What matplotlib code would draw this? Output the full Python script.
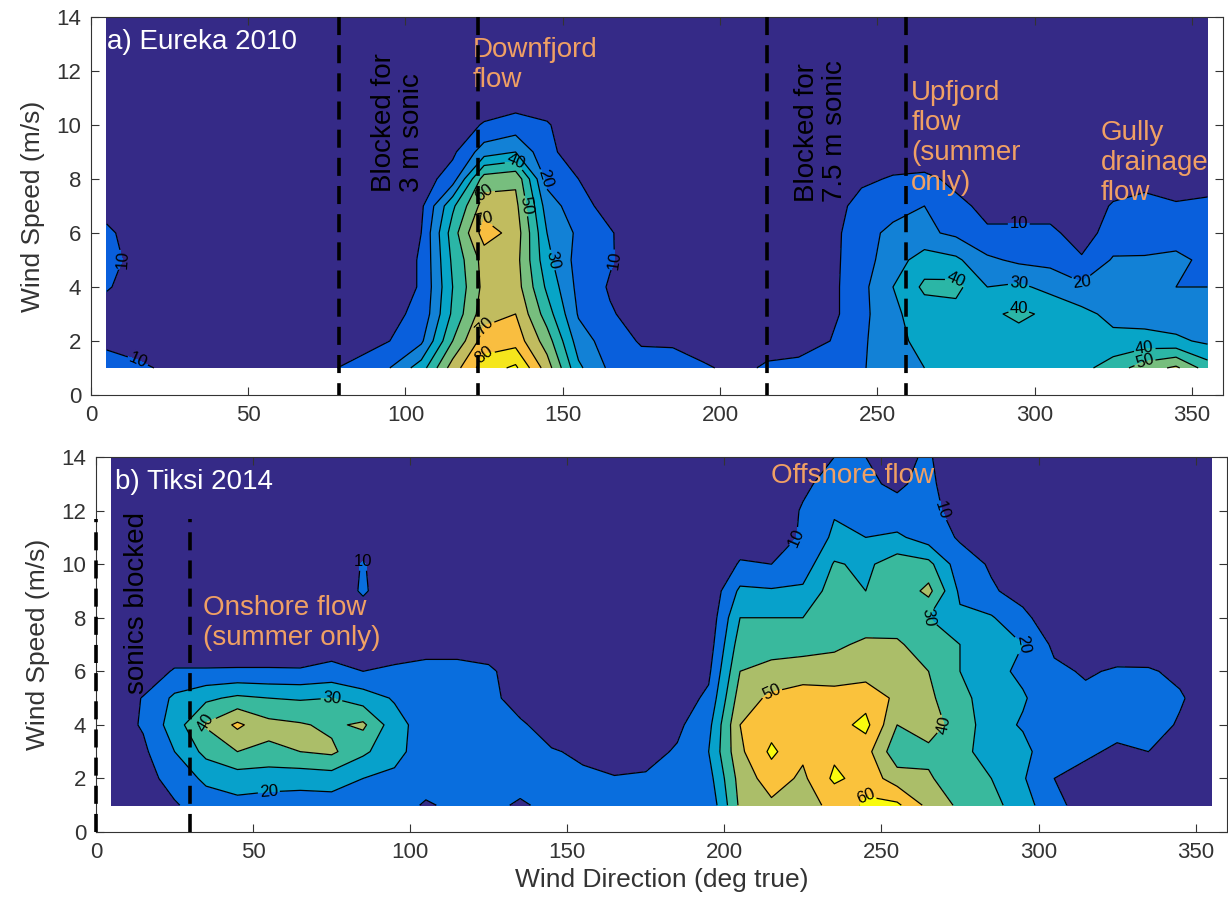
import numpy as np
from matplotlib import pyplot as plt
from matplotlib.colors import LinearSegmentedColormap

plt.rcParams["font.family"] = ["Liberation Sans", "DejaVu Sans"]

# wind direction bin centres (deg true) and wind speed bins (m/s)
directions = np.arange(5, 360, 10)
speeds = np.arange(1, 15)
count_levels = np.arange(0, 110, 10)

# counts per direction bin, each list runs over speed 1..14 m/s
eureka_counts = [
    [14, 8, 5, 11, 14, 12, 6, 2, 1, 0, 0, 0, 0, 0],
    [12, 5, 4, 5, 6, 5, 3, 1, 0, 0, 0, 0, 0, 0],
    [8, 4, 3, 3, 3, 2, 2, 1, 0, 0, 0, 0, 0, 0],
    [7, 4, 3, 3, 2, 2, 1, 1, 0, 0, 0, 0, 0, 0],
    [6, 3, 3, 2, 2, 2, 1, 0, 0, 0, 0, 0, 0, 0],
    [6, 3, 3, 3, 2, 2, 1, 0, 0, 0, 0, 0, 0, 0],
    [7, 4, 3, 3, 3, 2, 1, 0, 0, 0, 0, 0, 0, 0],
    [9, 5, 4, 3, 3, 2, 2, 1, 0, 0, 0, 0, 0, 0],
    [12, 7, 5, 4, 3, 3, 2, 1, 0, 0, 0, 0, 0, 0],
    [20, 10, 8, 7, 7, 6, 5, 3, 1, 0, 0, 0, 0, 0],
    [35, 18, 12, 10.5, 10.5, 10, 8, 5, 2, 1, 0, 0, 0, 0],
    [65, 50, 42, 40, 42, 45, 38, 15, 8, 4, 1, 0, 0, 0],
    [85, 75, 66, 63, 64, 75, 65, 55, 25, 11, 3, 0, 0, 0],
    [92, 76, 70, 65, 64, 66, 63, 58, 30, 14, 5, 1, 0, 0],
    [65, 55, 45, 38, 33, 30, 25, 17, 12, 11, 4, 1, 0, 0],
    [32, 25, 19, 17, 16, 18, 14, 10, 6, 3, 1, 0, 0, 0],
    [18, 15, 11, 9, 11, 11, 6, 3, 1, 0, 0, 0, 0, 0],
    [14, 9, 6, 5, 4, 3, 2, 1, 0, 0, 0, 0, 0, 0],
    [13, 9, 4, 3, 2, 2, 1, 0, 0, 0, 0, 0, 0, 0],
    [11, 6, 3, 2, 2, 1, 1, 0, 0, 0, 0, 0, 0, 0],
    [8, 4, 2, 2, 1, 1, 0, 0, 0, 0, 0, 0, 0, 0],
    [11, 7, 5, 4, 3, 3, 2, 1, 0, 0, 0, 0, 0, 0],
    [12, 7, 5, 5, 4, 4, 3, 1, 0, 0, 0, 0, 0, 0],
    [16, 10, 7, 7, 7, 6, 5, 2, 0, 0, 0, 0, 0, 0],
    [19, 18, 17, 17, 16, 17, 14, 8, 3, 0, 0, 0, 0, 0],
    [26, 28, 28, 30, 25, 22, 17, 11, 4, 1, 0, 0, 0, 0],
    [30, 32, 35, 42, 35, 22, 20, 12, 4, 1, 0, 0, 0, 0],
    [32, 33, 36, 43, 32, 18, 12, 8, 3, 0, 0, 0, 0, 0],
    [33, 35, 38, 30, 22, 11, 8, 4, 1, 0, 0, 0, 0, 0],
    [35, 36, 42, 32, 18, 12, 6, 3, 1, 0, 0, 0, 0, 0],
    [36, 35, 38, 27, 17, 12, 6, 3, 1, 0, 0, 0, 0, 0],
    [37, 36, 33, 22, 11, 6, 4, 2, 0, 0, 0, 0, 0, 0],
    [45, 33, 27, 22, 21, 14, 11, 5, 2, 0, 0, 0, 0, 0],
    [55, 34, 25, 24, 21, 15, 13, 7, 2, 0, 0, 0, 0, 0],
    [62, 32, 24, 20, 23, 14, 11, 5, 1, 0, 0, 0, 0, 0],
    [45, 28, 30, 20, 17, 14, 12, 6, 2, 0, 0, 0, 0, 0],
]

tiksi_counts = [
    [3, 3, 4, 5, 4, 2, 1, 0, 0, 0, 0, 0, 0, 0],
    [4, 6, 8, 11, 10.5, 4, 1, 0, 0, 0, 0, 0, 0, 0],
    [9, 14, 20, 25, 22, 11, 3, 1, 0, 0, 0, 0, 0, 0],
    [15, 22, 33, 41, 28, 11, 3, 1, 0, 0, 0, 0, 0, 0],
    [17, 25, 40, 52, 32, 11, 4, 1, 0, 0, 0, 0, 0, 0],
    [16, 24, 38, 43, 30, 11, 4, 1, 0, 0, 0, 0, 0, 0],
    [15, 24, 40, 41, 29, 11, 3, 1, 0, 0, 0, 0, 0, 0],
    [15, 25, 42, 38, 30, 13, 5, 2, 0, 0, 0, 0, 0, 0],
    [14, 20, 32, 42, 25, 10, 3, 2, 12, 11, 1, 0, 0, 0],
    [14, 18, 23, 24, 19, 12, 4, 1, 0, 0, 0, 0, 0, 0],
    [9, 14, 15, 15, 14, 14, 5, 1, 0, 0, 0, 0, 0, 0],
    [12, 13, 14, 14, 13, 14, 5, 1, 0, 0, 0, 0, 0, 0],
    [12, 13, 13, 13, 12, 12, 4, 1, 0, 0, 0, 0, 0, 0],
    [9, 13, 12, 11, 7, 4, 1, 0, 0, 0, 0, 0, 0, 0],
    [12, 12, 10.5, 7, 4, 2, 0, 0, 0, 0, 0, 0, 0, 0],
    [12, 11, 9, 5, 3, 1, 0, 0, 0, 0, 0, 0, 0, 0],
    [12, 10.5, 6, 4, 2, 1, 0, 0, 0, 0, 0, 0, 0, 0],
    [12, 11, 7, 4, 2, 1, 0, 0, 0, 0, 0, 0, 0, 0],
    [13, 12, 11, 8, 5, 3, 1, 0, 0, 0, 0, 0, 0, 0],
    [12, 16, 20, 17, 12, 8, 5, 3, 2, 1, 0, 0, 0, 0],
    [42, 44, 48, 50, 45, 40, 35, 30, 22, 11, 5, 2, 0, 0],
    [48, 55, 62, 56, 52, 43, 36, 30, 21, 10, 6, 3, 1, 0],
    [47, 48, 52, 58, 55, 45, 36, 30, 22, 14, 11, 11, 8, 4],
    [52, 62, 58, 56, 54, 45, 38, 34, 35, 31, 22, 19, 14, 10],
    [62, 56, 54, 63, 56, 46, 42, 34, 30, 28, 20, 15, 11, 10],
    [62, 45, 33, 40, 48, 45, 42, 33, 32, 35, 22, 12, 9, 8],
    [47, 41, 38, 44, 42, 40, 33, 30, 43, 33, 15, 13, 12, 11],
    [38, 35, 32, 36, 33, 30, 30, 22, 18, 14, 9, 6, 4, 3],
    [33, 30, 27, 24, 25, 23, 21, 21, 11, 9, 4, 2, 1, 0],
    [25, 21, 23, 19, 21, 18, 20, 12, 7, 3, 1, 0, 0, 0],
    [12, 10, 13, 15, 14, 12, 8, 5, 2, 1, 0, 0, 0, 0],
    [7, 8, 11, 14, 12, 9, 4, 2, 0, 0, 0, 0, 0, 0],
    [4, 6, 9, 12, 13, 11, 5, 2, 0, 0, 0, 0, 0, 0],
    [3, 5, 10, 14, 12, 11, 4, 1, 0, 0, 0, 0, 0, 0],
    [2, 4, 7, 9, 11, 8, 3, 1, 0, 0, 0, 0, 0, 0],
    [1, 2, 3, 4, 5, 3, 1, 0, 0, 0, 0, 0, 0, 0],
]

# sectors where the sonics are blocked by the tower
eureka_blocked = [79, 123, 215, 259]
tiksi_blocked = [0, 30]
tiksi_blocked_top = 11.7

# parula, sampled every few entries
PARULA = [
    (0.2081, 0.1663, 0.5292), (0.1959, 0.2645, 0.7279), (0.0117, 0.3875, 0.8820),
    (0.0498, 0.4586, 0.8641), (0.0793, 0.5200, 0.8312), (0.0265, 0.6137, 0.8135),
    (0.0267, 0.6642, 0.7607), (0.1133, 0.7015, 0.6859), (0.2178, 0.7250, 0.6193),
    (0.3953, 0.7459, 0.5244), (0.5709, 0.7485, 0.4494), (0.7184, 0.7411, 0.3905),
    (0.8507, 0.7299, 0.3360), (0.9739, 0.7314, 0.2666), (0.9880, 0.8066, 0.1794),
    (0.9589, 0.8949, 0.1132), (0.9763, 0.9831, 0.0538),
]
ORANGE = "#f0a064"
TEXT_GREY = "#333333"
LABEL_SIZE = 20


def band_colors(vmax):
    cmap = LinearSegmentedColormap.from_list("parula", PARULA)
    return [cmap(min(lev / vmax, 1.0)) for lev in count_levels[:-1]]


def draw_panel(ax, counts, vmax):
    grid = np.array(counts, dtype=float).T
    ax.contourf(directions, speeds, grid, levels=count_levels, colors=band_colors(vmax))
    lines = ax.contour(directions, speeds, grid, levels=count_levels[1:], colors="k", linewidths=0.9)
    ax.clabel(lines, fmt="%d", fontsize=12, inline_spacing=2)


def style_axes(ax):
    ax.set_xlim(0, 360)
    ax.set_ylim(0, 14)
    ax.set_xticks(np.arange(0, 351, 50))
    ax.set_yticks(np.arange(0, 15, 2))
    ax.tick_params(direction="in", top=True, right=True, length=6, width=0.8,
                   labelsize=16, colors=TEXT_GREY, pad=7)
    for spine in ax.spines.values():
        spine.set_color(TEXT_GREY)
        spine.set_linewidth(0.8)
    ax.set_ylabel("Wind Speed (m/s)", fontsize=19, color=TEXT_GREY, labelpad=8)


def dashed(ax, x, y0, y1):
    ax.plot([x, x], [y0, y1], color="k", lw=2.6, ls=(0, (5, 2.8)), clip_on=False, zorder=5)


def main():
    fig = plt.figure(figsize=(12.28, 9.09), dpi=100)
    ax_top = fig.add_axes([0.0741, 0.5655, 0.922, 0.4158])
    ax_bot = fig.add_axes([0.0782, 0.0847, 0.921, 0.4125])

    # a) Eureka
    draw_panel(ax_top, eureka_counts, 85)
    style_axes(ax_top)
    for x in eureka_blocked:
        dashed(ax_top, x, 14, 0)
    ax_top.text(5, 13.07, "a) Eureka 2010", color="white", fontsize=LABEL_SIZE, va="center")
    ax_top.text(97.5, 7.5, "Blocked for\n3 m sonic", rotation=90, ha="center", va="bottom",
                multialignment="left", fontsize=LABEL_SIZE, color="k", linespacing=1.1)
    ax_top.text(232, 7.15, "Blocked for\n7.5 m sonic", rotation=90, ha="center", va="bottom",
                multialignment="left", fontsize=LABEL_SIZE, color="k", linespacing=1.1)
    ax_top.text(121.5, 13.25, "Downfjord\nflow", color=ORANGE, fontsize=LABEL_SIZE, va="top",
                linespacing=1.2)
    ax_top.text(260.8, 11.65, "Upfjord\nflow\n(summer\nonly)", color=ORANGE, fontsize=LABEL_SIZE,
                va="top", linespacing=1.2)
    ax_top.text(321, 10.2, "Gully\ndrainage\nflow", color=ORANGE, fontsize=LABEL_SIZE, va="top",
                linespacing=1.2)

    # b) Tiksi
    draw_panel(ax_bot, tiksi_counts, 60)
    style_axes(ax_bot)
    for x in tiksi_blocked:
        dashed(ax_bot, x, 0, tiksi_blocked_top)
    ax_bot.text(6, 13.06, "b) Tiksi 2014", color="white", fontsize=LABEL_SIZE, va="center")
    ax_bot.text(13, 8.55, "sonics blocked", rotation=90, ha="center", va="center",
                fontsize=LABEL_SIZE, color="k")
    ax_bot.text(34, 8.85, "Onshore flow\n(summer only)", color=ORANGE, fontsize=LABEL_SIZE,
                va="top", linespacing=1.2)
    ax_bot.text(215, 13.3, "Offshore flow", color=ORANGE, fontsize=LABEL_SIZE, va="center")
    ax_bot.set_xlabel("Wind Direction (deg true)", fontsize=19, color=TEXT_GREY, labelpad=4)

    fig.savefig("out.png", dpi=100)


if __name__ == "__main__":
    main()
